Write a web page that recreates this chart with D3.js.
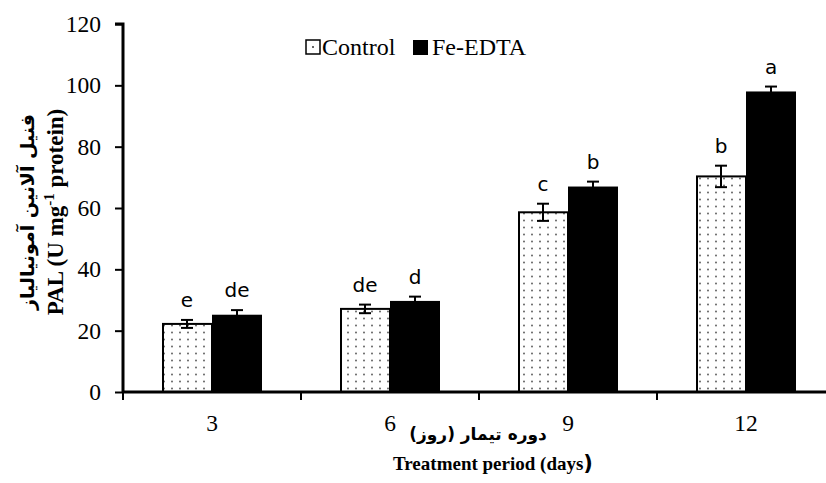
<!DOCTYPE html>
<html><head><meta charset="utf-8">
<script src="https://cdn.jsdelivr.net/npm/d3@7"></script>
<style>body{margin:0;background:#fff}svg{display:block}</style>
</head><body>
<svg id="c" width="826" height="483"></svg>
<script>
const categories = ["3", "6", "9", "12"];
const seriesNames = ["Control", "Fe-EDTA"];
const controlValues = [22.2, 27.1, 58.6, 70.3];
const controlErrors = [1.3, 1.4, 2.8, 3.5];
const controlLetters = ["e", "de", "c", "b"];
const feValues = [25.2, 29.7, 67.0, 98.0];
const feErrors = [1.5, 1.4, 1.6, 1.6];
const feLetters = ["de", "d", "b", "a"];
const yTicks = [0, 20, 40, 60, 80, 100, 120];

const svg = d3.select("#c");
const defs = svg.append("defs");
const pat = defs.append("pattern").attr("id","dots").attr("patternUnits","userSpaceOnUse")
  .attr("width",8).attr("height",7);
pat.append("rect").attr("width",8).attr("height",7).attr("fill","#fff");
pat.append("circle").attr("cx",4).attr("cy",3.5).attr("r",0.9).attr("fill","#555");

const x0 = d3.scaleBand().domain(categories).range([123, 835]);
const x1 = d3.scaleBand().domain(seriesNames).range([0, 100]);
const y = d3.scaleLinear().domain([0, 120]).range([392, 24]);
const off = (x0.bandwidth() - 100) / 2;

const data = [];
categories.forEach((c, i) => {
  data.push({c, s: "Control", v: controlValues[i], e: controlErrors[i], l: controlLetters[i]});
  data.push({c, s: "Fe-EDTA", v: feValues[i], e: feErrors[i], l: feLetters[i]});
});

const g = svg.append("g");
g.selectAll("rect.bar").data(data).enter().append("rect")
  .attr("x", d => x0(d.c) + off + x1(d.s) + (d.s === "Control" ? 1 : 0))
  .attr("y", d => y(d.v))
  .attr("width", d => x1.bandwidth() - (d.s === "Control" ? 1 : 0))
  .attr("height", d => y(0) - y(d.v))
  .attr("fill", d => d.s === "Control" ? "url(#dots)" : "#000")
  .attr("stroke", "#000")
  .attr("stroke-width", d => d.s === "Control" ? 2 : 0);

// error bars
const eb = g.selectAll("g.err").data(data).enter().append("g")
  .attr("transform", d => `translate(${x0(d.c) + off + x1(d.s) + x1.bandwidth()/2},0)`);
eb.append("line").attr("x1",0).attr("x2",0)
  .attr("y1", d => y(d.v + d.e)).attr("y2", d => y(d.v - d.e))
  .attr("stroke","#000").attr("stroke-width",2);
eb.append("line").attr("x1",-6).attr("x2",6)
  .attr("y1", d => y(d.v + d.e)).attr("y2", d => y(d.v + d.e))
  .attr("stroke","#000").attr("stroke-width",2);
eb.filter(d => d.s === "Control").append("line").attr("x1",-6).attr("x2",6)
  .attr("y1", d => y(d.v - d.e)).attr("y2", d => y(d.v - d.e))
  .attr("stroke","#000").attr("stroke-width",2);
eb.append("text").attr("x",0).attr("y", d => y(d.v + d.e) - 13)
  .attr("text-anchor","middle").attr("font-family","DejaVu Sans, sans-serif")
  .attr("font-size",20).attr("fill","#000").text(d => d.l);

// axes
const yAxis = d3.axisLeft(y).tickValues(yTicks).tickSize(8).tickPadding(14);
const ya = svg.append("g").attr("transform","translate(123,0)").call(yAxis);
ya.select(".domain").attr("stroke-width",3).attr("d","M-8,24H0V392");
ya.selectAll(".tick line").attr("stroke-width",2);
ya.selectAll(".tick text").attr("font-family","Liberation Serif, serif").attr("font-size",23.5).attr("fill","#000");

const xAxis = d3.axisBottom(x0).tickSize(0).tickPadding(22);
const xa = svg.append("g").attr("transform","translate(0,392)").call(xAxis);
xa.select(".domain").attr("stroke-width",3).attr("d","M123,0H835");
xa.selectAll(".tick text").attr("font-family","Liberation Serif, serif").attr("font-size",23.5).attr("fill","#000");
// boundary ticks
const bounds = categories.slice(1).map(c => x0(c)).concat([123]);
xa.selectAll("line.bt").data(bounds).enter().append("line")
  .attr("x1", d => d).attr("x2", d => d).attr("y1",0).attr("y2",8)
  .attr("stroke","#000").attr("stroke-width",2);

// legend
const lg = svg.append("g");
lg.append("rect").attr("x",306).attr("y",40).attr("width",14).attr("height",14)
  .attr("fill","#fff").attr("stroke","#000").attr("stroke-width",1.5);
lg.append("circle").attr("cx",313).attr("cy",47).attr("r",1).attr("fill","#333");
lg.append("text").attr("x",322).attr("y",55).attr("font-family","Liberation Serif, serif")
  .attr("font-size",24).text(seriesNames[0]);
lg.append("rect").attr("x",413).attr("y",40).attr("width",15).attr("height",15).attr("fill","#000");
lg.append("text").attr("x",432).attr("y",55).attr("font-family","Liberation Serif, serif")
  .attr("font-size",24).text(seriesNames[1]);

// y title
const yt = svg.append("g").attr("transform","translate(0,212) rotate(-90)");
yt.append("text").attr("x",0).attr("y",34).attr("text-anchor","middle")
  .attr("font-family","DejaVu Sans, sans-serif").attr("font-size",19).attr("font-weight","bold")
  .attr("direction","rtl").text("فنیل آلانین آمونیالیاز");
const yt2 = yt.append("text").attr("x",0).attr("y",63).attr("text-anchor","middle")
  .attr("font-family","Liberation Serif, serif").attr("font-size",23).attr("font-weight","bold");
yt2.append("tspan").text("PAL (U mg");
yt2.append("tspan").attr("font-size",15).attr("dy",-9).text("-1");
yt2.append("tspan").attr("dy",9).text("  protein)");

// x titles
svg.append("text").attr("x",478).attr("y",440).attr("text-anchor","middle")
  .attr("font-family","DejaVu Sans, sans-serif").attr("font-size",17).attr("font-weight","bold")
  .attr("direction","rtl").text("دوره تیمار (روز)");
const xt = svg.append("text").attr("x",493).attr("y",470).attr("text-anchor","middle")
  .attr("font-family","Liberation Serif, serif").attr("font-size",19).attr("font-weight","bold");
xt.append("tspan").text("Treatment period (days");
xt.append("tspan").attr("font-family","DejaVu Sans, sans-serif").attr("font-size",21).text(")");
</script>
</body></html>
